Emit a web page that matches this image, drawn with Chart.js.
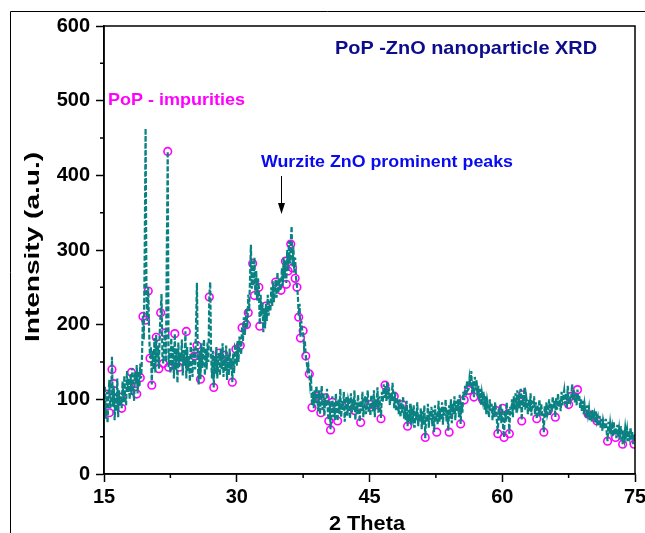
<!DOCTYPE html>
<html>
<head>
<meta charset="utf-8">
<script src="https://cdn.jsdelivr.net/npm/chart.js@4.4.1/dist/chart.umd.min.js"></script>
<style>
  html, body { margin: 0; padding: 0; background: #fff; }
  canvas { display: block; }
</style>
</head>
<body>
<canvas id="chart" width="645" height="533"></canvas>
<script>
// scan: 15 to 75 deg 2theta, 0.1 deg step (one row = 2 deg)
const scanStart = 15;
const scanStep = 0.1;
const intensity = [
  82, 118, 74, 110, 68, 102, 126, 88, 96, 157, 90, 118, 72, 108, 84, 128, 76, 112, 92, 104,
  88, 124, 96, 132, 104, 92, 138, 110, 128, 100, 134, 106, 142, 116, 98, 136, 120, 146, 108, 138,
  118, 148, 128, 160, 212, 180, 300, 463, 240, 205, 250, 190, 155, 170, 120, 165, 140, 182, 136, 186,
  150, 172, 141, 190, 216, 241, 158, 148, 176, 192, 150, 300, 432, 143, 168, 135, 182, 140, 172, 128,
  188, 140, 168, 122, 176, 143, 162, 151, 180, 132, 166, 145, 191, 128, 170, 138, 158, 124, 176, 146,
  130, 168, 158, 140, 200, 256, 150, 120, 165, 127, 175, 142, 161, 180, 132, 168, 140, 176, 150, 237,
  257, 160, 128, 165, 116, 158, 134, 170, 128, 150, 162, 132, 168, 140, 175, 130, 159, 138, 172, 126,
  160, 132, 168, 140, 155, 123, 162, 135, 170, 167, 145, 178, 150, 184, 172, 160, 198, 178, 210, 186,
  200, 222, 196, 240, 218, 262, 307, 248, 285, 252, 290, 240, 272, 232, 262, 250, 200, 240, 212, 230,
  190, 222, 195, 228, 205, 240, 212, 232, 218, 250, 225, 258, 230, 246, 260, 236, 270, 242, 262, 248,
  246, 276, 252, 290, 262, 286, 256, 300, 272, 312, 282, 310, 332, 278, 305, 270, 290, 262, 252, 240,
  212, 228, 184, 205, 192, 190, 170, 178, 158, 150, 140, 145, 133, 118, 125, 92, 110, 88, 112, 95,
  118, 104, 84, 112, 80, 100, 118, 86, 108, 78, 102, 90, 114, 80, 72, 98, 60, 88, 104, 76,
  96, 72, 108, 84, 71, 100, 80, 114, 76, 98, 86, 110, 70, 92, 104, 78, 100, 95, 74, 108,
  82, 100, 85, 112, 72, 96, 80, 106, 88, 70, 98, 84, 110, 76, 92, 104, 80, 96, 112, 82,
  94, 78, 106, 93, 84, 112, 76, 100, 90, 116, 82, 104, 92, 75, 110, 96, 120, 102, 118, 98,
  124, 100, 116, 92, 108, 98, 122, 104, 88, 110, 84, 102, 94, 80, 100, 76, 96, 82, 104, 74,
  90, 72, 98, 64, 86, 70, 94, 66, 82, 74, 92, 62, 84, 72, 96, 64, 80, 70, 88, 60,
  84, 66, 92, 48, 78, 70, 94, 62, 84, 72, 90, 64, 86, 56, 92, 70, 82, 66, 98, 70,
  88, 72, 96, 66, 90, 78, 100, 70, 86, 58, 92, 74, 100, 68, 94, 80, 104, 72, 98, 84,
  100, 76, 106, 67, 96, 82, 110, 99, 118, 104, 124, 112, 114, 128, 118, 138, 108, 124, 103, 130,
  112, 126, 104, 118, 98, 114, 92, 108, 99, 110, 86, 104, 80, 98, 90, 76, 100, 84, 94, 72,
  92, 76, 96, 85, 70, 54, 88, 72, 94, 68, 88, 62, 49, 84, 70, 96, 74, 88, 54, 90,
  80, 100, 76, 104, 86, 108, 82, 112, 94, 102, 88, 114, 72, 106, 90, 116, 86, 104, 96, 80,
  100, 84, 108, 78, 98, 88, 104, 80, 96, 74, 92, 86, 100, 78, 94, 82, 72, 56, 92, 76,
  96, 80, 85, 100, 78, 94, 84, 104, 88, 98, 76, 102, 86, 108, 90, 100, 84, 110, 92, 104,
  112, 94, 108, 88, 118, 93, 104, 98, 104, 120, 100, 112, 96, 108, 92, 113, 98, 106, 88, 100,
  84, 98, 80, 94, 86, 76, 92, 80, 88, 72, 84, 70, 86, 74, 80, 68, 84, 71, 76, 64,
  78, 62, 74, 58, 72, 66, 60, 74, 56, 44, 70, 54, 68, 58, 64, 50, 70, 52, 62, 48,
  66, 50, 60, 46, 64, 54, 40, 58, 48, 62, 52, 60, 44, 58, 50, 62, 46, 56, 40, 54,
  52
];

// open magenta circles (marker symbols)
const circleTheta = [
  15.2, 15.6, 15.9, 16.1, 16.9, 17.0, 18.1, 18.6, 18.7, 19.1,
  19.4, 19.7, 20.0, 20.2, 20.4, 20.9, 21.2, 21.4, 21.7, 21.9,
  22.2, 22.3, 23.0, 23.5, 23.85, 24.3, 25.2, 25.5, 25.9, 26.2,
  26.9, 27.4, 28.0, 28.6, 29.5, 29.9, 30.4, 30.6, 31.1, 31.3,
  31.8, 32.0, 32.5, 32.6, 33.3, 34.4, 35.0, 35.5, 35.6, 35.8,
  36.1, 36.3, 36.6, 36.8, 37.0, 37.2, 37.5, 37.8, 38.2, 38.5,
  39.1, 39.5, 40.0, 40.4, 40.6, 40.8, 41.4, 42.7, 43.3, 44.0,
  45.1, 45.7, 46.3, 46.75, 47.8, 48.7, 49.3, 51.3, 52.6, 54.0,
  55.3, 55.7, 56.2, 56.8, 57.8, 59.3, 59.5, 60.05, 60.2, 60.8,
  62.2, 62.3, 63.9, 64.7, 65.2, 66.0, 67.5, 67.8, 68.5, 69.7,
  70.7, 71.9, 72.8, 73.6, 74.9
];
const circleInt = [
  107, 82, 140, 121, 103, 88, 136, 121, 107, 129,
  211, 206, 245, 155, 119, 183, 141, 216, 148, 189,
  432, 143, 188, 143, 151, 191, 158, 172, 127, 161,
  237, 116, 162, 159, 123, 167, 172, 196, 200, 216,
  282, 239, 250, 198, 225, 257, 246, 285, 254, 272,
  308, 276, 262, 250, 210, 182, 192, 158, 134, 89,
  104, 82, 102, 71, 59, 96, 71, 95, 85, 69,
  93, 93, 74, 119, 104, 93, 64, 49, 56, 56,
  67, 99, 112, 103, 99, 85, 54, 88, 49, 54,
  71, 106, 74, 56, 85, 76, 93, 104, 113, 80,
  71, 44, 49, 40, 40
];

const xTicks = [15, 30, 45, 60, 75];
const yTicks = [0, 100, 200, 300, 400, 500, 600];

const lineData = intensity.map((v, i) => ({ x: scanStart + i * scanStep, y: v }));
const circleData = circleTheta.map((t, i) => ({ x: t, y: circleInt[i] }));

const FONT = "'Liberation Sans', Arial, sans-serif";

// draw text squeezed/stretched to a given width (like the original figure)
function fitText(ctx, text, x, y, width, size, color, align) {
  ctx.save();
  ctx.font = "bold " + size + "px " + FONT;
  ctx.fillStyle = color;
  ctx.textBaseline = "alphabetic";
  const w = ctx.measureText(text).width;
  ctx.translate(x, y);
  ctx.scale(width / w, 1);
  ctx.textAlign = align || "left";
  ctx.fillText(text, 0, 0);
  ctx.restore();
}

const decor = {
  id: "decor",
  beforeDraw(chart) {
    const ctx = chart.ctx;
    ctx.save();
    ctx.fillStyle = "#fff";
    ctx.fillRect(0, 0, chart.width, chart.height);
    // outer frame
    ctx.strokeStyle = "#000";
    ctx.lineWidth = 1;
    ctx.beginPath();
    ctx.moveTo(10.5, chart.height);
    ctx.lineTo(10.5, 11.5);
    ctx.lineTo(chart.width, 11.5);
    ctx.stroke();
    ctx.restore();
  },
  afterDraw(chart) {
    const ctx = chart.ctx;
    const a = chart.chartArea;
    const xs = chart.scales.x, ys = chart.scales.y;
    ctx.save();
    ctx.strokeStyle = "#000";
    ctx.lineWidth = 1.5;
    ctx.strokeRect(a.left, a.top, a.right - a.left, a.bottom - a.top);

    // minor ticks
    ctx.beginPath();
    for (let v = 22.5; v < 75; v += 15) {
      const px = xs.getPixelForValue(v);
      ctx.moveTo(px, a.bottom);
      ctx.lineTo(px, a.bottom + 4);
    }
    for (let v = 50; v < 600; v += 100) {
      const py = ys.getPixelForValue(v);
      ctx.moveTo(a.left, py);
      ctx.lineTo(a.left - 4, py);
    }
    ctx.stroke();

    // annotations
    fitText(ctx, "PoP -ZnO nanoparticle XRD", 335, 54, 262, 19, "#0c0c8c");
    fitText(ctx, "PoP - impurities", 108, 105, 137, 17, "#ff00ff");
    fitText(ctx, "Wurzite ZnO prominent peaks", 261, 167, 252, 17, "#0a0af0");

    // arrow to the wurtzite peaks
    const ax = Math.round(xs.getPixelForValue(35)) + 0.5;
    ctx.strokeStyle = "#000";
    ctx.lineWidth = 1;
    ctx.beginPath();
    ctx.moveTo(ax, 176);
    ctx.lineTo(ax, 206);
    ctx.stroke();
    ctx.fillStyle = "#000";
    ctx.beginPath();
    ctx.moveTo(ax - 3.5, 203);
    ctx.lineTo(ax + 3.5, 203);
    ctx.lineTo(ax, 214);
    ctx.closePath();
    ctx.fill();

    // axis titles
    fitText(ctx, "2 Theta", 367, 530, 76, 20, "#000", "center");
    ctx.save();
    ctx.translate(39, 247);
    ctx.rotate(-Math.PI / 2);
    fitText(ctx, "Intensity (a.u.)", 0, 0, 190, 20, "#000", "center");
    ctx.restore();
    ctx.restore();
  }
};

const tickFont = { family: FONT, size: 20, weight: "bold" };

new Chart(document.getElementById("chart").getContext("2d"), {
  type: "line",
  data: {
    datasets: [
      {
        label: "XRD",
        data: lineData,
        borderColor: "#0a8282",
        borderWidth: 2.2,
        borderDash: [5, 2],
        pointRadius: 0,
        tension: 0,
        fill: false,
        order: 0
      },
      {
        label: "markers",
        data: circleData,
        showLine: false,
        pointRadius: 3.8,
        pointBorderWidth: 1.6,
        pointBorderColor: "#ff00ff",
        pointBackgroundColor: "rgba(255,255,255,0)",
        order: 1
      }
    ]
  },
  options: {
    responsive: false,
    animation: false,
    layout: { padding: { top: 26, right: 10, bottom: 0, left: 0 } },
    plugins: { legend: { display: false }, tooltip: { enabled: false } },
    scales: {
      x: {
        type: "linear",
        min: 15,
        max: 75,
        afterBuildTicks: s => { s.ticks = xTicks.map(v => ({ value: v })); },
        afterFit: s => { s.height = 59; s.paddingLeft = 0; s.paddingRight = 0; },
        ticks: { font: tickFont, color: "#000", padding: 3, maxRotation: 0, autoSkip: false },
        grid: { drawOnChartArea: false, tickLength: 8, tickColor: "#000", tickWidth: 1.5 },
        border: { color: "#000", width: 1.5 }
      },
      y: {
        min: 0,
        max: 600,
        afterBuildTicks: s => { s.ticks = yTicks.map(v => ({ value: v })); },
        afterFit: s => { s.width = 104; },
        ticks: { font: tickFont, color: "#000", padding: 6 },
        grid: { drawOnChartArea: false, tickLength: 8, tickColor: "#000", tickWidth: 1.5 },
        border: { color: "#000", width: 1.5 }
      }
    }
  },
  plugins: [decor]
});
</script>
</body>
</html>
